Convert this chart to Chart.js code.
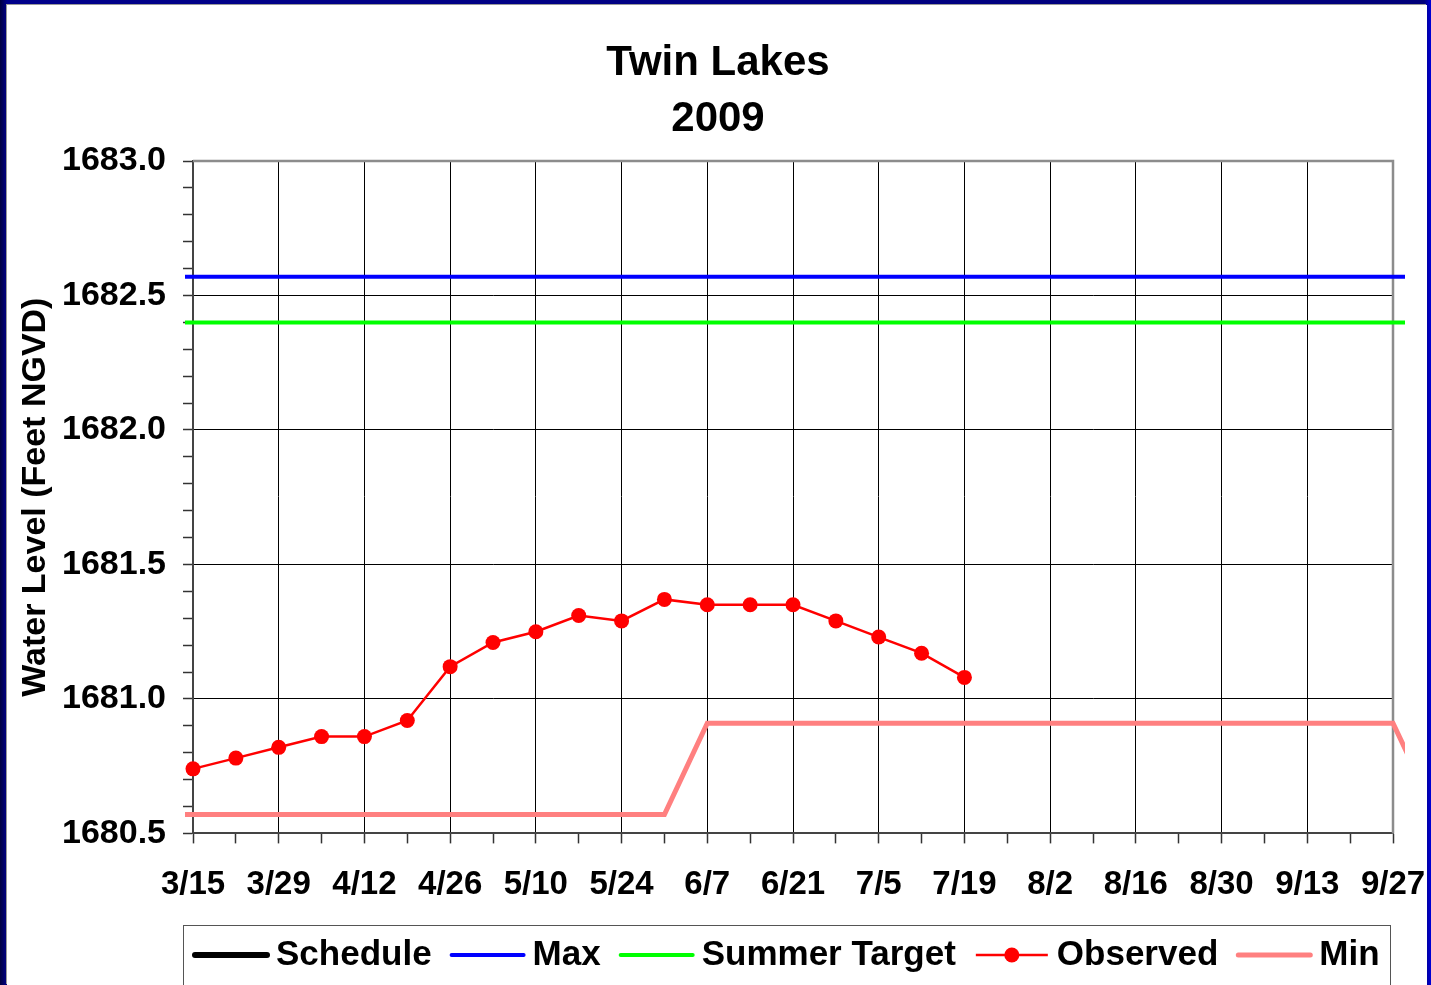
<!DOCTYPE html>
<html>
<head>
<meta charset="utf-8">
<title>Twin Lakes 2009</title>
<script src="https://cdn.jsdelivr.net/npm/chart.js@4.4.1/dist/chart.umd.min.js"></script>
<style>
  html, body { margin: 0; padding: 0; }
  body {
    width: 1431px; height: 985px; overflow: hidden;
    background: linear-gradient(to right, #000040 0px, #00008a 7px, #00007a 1424px, #0000d8 1431px);
  }
  #frame {
    position: absolute; left: 7px; top: 5px; width: 1420px; height: 980px;
    background: #fff; box-shadow: -1px -1px 0 #999;
  }
</style>
</head>
<body>
<div id="frame"><canvas id="level-chart" width="1420" height="980"></canvas></div>
<script>
// x tick labels, every two weeks from 3/15
var xLabels = ['3/15', '3/29', '4/12', '4/26', '5/10', '5/24', '6/7', '6/21',
               '7/5', '7/19', '8/2', '8/16', '8/30', '9/13', '9/27'];

// weekly observed water level (feet NGVD)
var obsDates = ['3/15', '3/22', '3/29', '4/5', '4/12', '4/19', '4/26', '5/3', '5/10', '5/17',
                '5/24', '5/31', '6/7', '6/14', '6/21', '6/28', '7/5', '7/12', '7/19'];
var obsValues = [1680.74, 1680.78, 1680.82, 1680.86, 1680.86, 1680.92, 1681.12, 1681.21, 1681.25, 1681.31,
                 1681.29, 1681.37, 1681.35, 1681.35, 1681.35, 1681.29, 1681.23, 1681.17, 1681.08];

var maxDates = ['3/8', '10/4'];
var maxValues = [1682.57, 1682.57];

var targetDates = ['3/8', '10/4'];
var targetValues = [1682.40, 1682.40];

var minDates = ['3/8', '5/31', '6/7', '9/27', '10/4'];
var minValues = [1680.57, 1680.57, 1680.91, 1680.91, 1680.57];

var FONT = '"Liberation Sans", Arial, Helvetica, sans-serif';

// days since 3/15/2009
function dayOf(s) {
  var p = s.split('/');
  var d = new Date(2009, +p[0] - 1, +p[1]);
  return Math.round((d - new Date(2009, 2, 15)) / 86400000);
}
function points(dates, values) {
  return dates.map(function (s, i) { return {x: dayOf(s), y: values[i]}; });
}

// gray box round the plot area (top and right edges)
var plotFrame = {
  id: 'plotFrame',
  beforeDatasetsDraw: function (chart) {
    var a = chart.chartArea, ctx = chart.ctx;
    ctx.save();
    ctx.strokeStyle = '#8c8c8c';
    ctx.lineWidth = 2.5;
    ctx.beginPath();
    ctx.moveTo(a.left, a.top);
    ctx.lineTo(a.right, a.top);
    ctx.lineTo(a.right, a.bottom);
    ctx.stroke();
    ctx.restore();
  }
};

// legend in a box below the x axis
var legendBox = {
  id: 'legendBox',
  afterDraw: function (chart) {
    var ctx = chart.ctx;
    var left = chart.chartArea.left - 10, right = chart.chartArea.right - 3, top = 920;
    ctx.save();
    ctx.strokeStyle = '#555';
    ctx.lineWidth = 1;
    ctx.strokeRect(left + 0.5, top + 0.5, right - left, 100);
    ctx.font = 'bold 35px ' + FONT;
    ctx.textBaseline = 'middle';
    var x = left + 9, y = top + 30;
    chart.data.datasets.forEach(function (ds) {
      ctx.strokeStyle = ds.borderColor;
      ctx.lineWidth = ds.legendWidth;
      ctx.lineCap = ds.pointRadius ? 'butt' : 'round';
      ctx.beginPath();
      ctx.moveTo(x + 3, y);
      ctx.lineTo(x + 75, y);
      ctx.stroke();
      if (ds.pointRadius) {
        ctx.fillStyle = ds.pointBackgroundColor;
        ctx.beginPath();
        ctx.arc(x + 39, y, ds.pointRadius, 0, Math.PI * 2);
        ctx.fill();
      }
      x += 84;
      ctx.fillStyle = '#000';
      ctx.fillText(ds.label, x, y);
      x += ctx.measureText(ds.label).width + 17;
    });
    ctx.restore();
  }
};

var ctx = document.getElementById('level-chart');
var levelChart = new Chart(ctx, {
  type: 'line',
  data: {
    datasets: [{
      label: 'Schedule',
      data: [],
      borderColor: '#000000',
      borderWidth: 6,
      legendWidth: 6
    }, {
      label: 'Max',
      data: points(maxDates, maxValues),
      borderColor: '#0000ff',
      borderWidth: 4,
      legendWidth: 4,
      pointRadius: 0,
      clip: {left: 8, right: 12, top: 0, bottom: 0}
    }, {
      label: 'Summer Target',
      data: points(targetDates, targetValues),
      borderColor: '#00ff00',
      borderWidth: 4,
      legendWidth: 4,
      pointRadius: 0,
      clip: {left: 8, right: 12, top: 0, bottom: 0}
    }, {
      label: 'Observed',
      data: points(obsDates, obsValues),
      borderColor: '#ff0000',
      backgroundColor: '#ff0000',
      pointBackgroundColor: '#ff0000',
      pointBorderWidth: 0,
      borderWidth: 2.5,
      legendWidth: 2.5,
      pointRadius: 7.5,
      clip: false
    }, {
      label: 'Min',
      data: points(minDates, minValues),
      borderColor: '#ff8080',
      borderWidth: 5,
      legendWidth: 5,
      pointRadius: 0,
      clip: {left: 8, right: 12, top: 0, bottom: 0}
    }]
  },
  options: {
    responsive: false,
    animation: false,
    layout: {padding: {left: 2, right: 0, top: 0, bottom: 58}},
    plugins: {
      legend: {display: false},
      tooltip: {enabled: false},
      title: {
        display: true,
        text: ['Twin Lakes', '2009'],
        color: '#000',
        font: {family: FONT, size: 42, weight: 'bold', lineHeight: 56 / 42},
        padding: {top: 30, bottom: 14}
      }
    },
    scales: {
      x: {
        type: 'linear',
        // range set here (not min/max) so lines running past the axis ends still get drawn
        afterDataLimits: function (scale) { scale.min = 0; scale.max = 196; },
        afterFit: function (scale) { scale.paddingRight = 34; },
        ticks: {
          stepSize: 7,
          autoSkip: false,
          maxRotation: 0,
          padding: 22,
          color: '#000',
          font: {family: FONT, size: 33, weight: 'bold'},
          callback: function (v) {
            return v % 14 === 0 ? xLabels[v / 14] : '';
          }
        },
        grid: {
          color: function (c) {
            return c.tick && c.tick.value % 14 === 0 ? '#000' : 'rgba(0,0,0,0)';
          },
          lineWidth: 1,
          tickColor: '#333',
          tickLength: 10,
          tickWidth: 1.5
        },
        border: {display: true, color: '#444', width: 2}
      },
      y: {
        min: 1680.5,
        max: 1683.0,
        afterFit: function (scale) { scale.width = 184; },
        title: {
          display: true,
          text: 'Water Level (Feet NGVD)',
          color: '#000',
          font: {family: FONT, size: 34, weight: 'bold'},
          padding: {top: 6, bottom: 0}
        },
        ticks: {
          stepSize: 0.1,
          autoSkip: false,
          padding: 17,
          color: '#000',
          font: {family: FONT, size: 34, weight: 'bold'},
          callback: function (v) {
            var t = Math.round(v * 10);
            return t % 5 === 0 ? (t / 10).toFixed(1) : '';
          }
        },
        grid: {
          color: function (c) {
            return c.tick && Math.round(c.tick.value * 10) % 5 === 0 ? '#000' : 'rgba(0,0,0,0)';
          },
          lineWidth: 1,
          tickColor: '#333',
          tickLength: 10,
          tickWidth: 1.5
        },
        border: {display: true, color: '#444', width: 2}
      }
    }
  },
  plugins: [plotFrame, legendBox]
});
</script>
</body>
</html>
